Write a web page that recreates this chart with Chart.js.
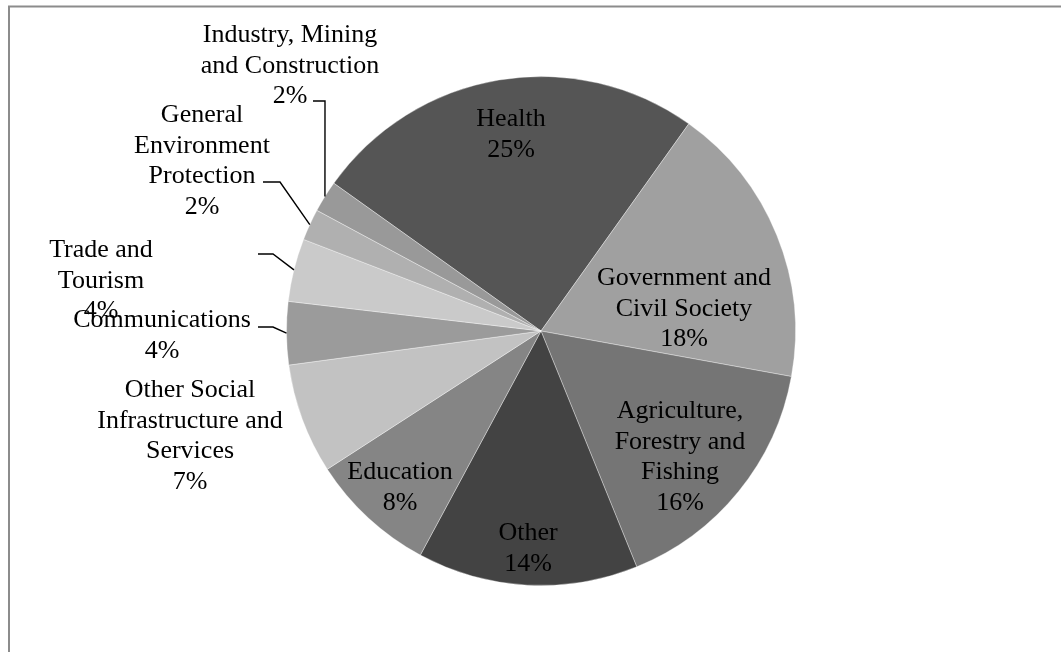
<!DOCTYPE html>
<html>
<head>
<meta charset="utf-8">
<script src="https://cdn.jsdelivr.net/npm/chart.js@4.4.1/dist/chart.umd.min.js"></script>
<style>
  html, body { margin: 0; padding: 0; background: #fff; }
  #wrap { position: relative; width: 1061px; height: 652px; }
</style>
</head>
<body>
<div id="wrap"><canvas id="sectorPie" width="1061" height="652"></canvas></div>
<script>
// sectors, clockwise from Health
const sectors = ["Health", "Government and Civil Society", "Agriculture, Forestry and Fishing", "Other",
    "Education", "Other Social Infrastructure and Services", "Communications", "Trade and Tourism",
    "General Environment Protection", "Industry, Mining and Construction"]
const shares = [25, 18, 16, 14, 8, 7, 4, 4, 2, 2]
const labelLines = [
    ["Health"],
    ["Government and", "Civil Society"],
    ["Agriculture,", "Forestry and", "Fishing"],
    ["Other"],
    ["Education"],
    ["Other Social", "Infrastructure and", "Services"],
    ["Communications"],
    ["Trade and", "Tourism"],
    ["General", "Environment", "Protection"],
    ["Industry, Mining", "and Construction"]
]
const sliceColors = ["#555555", "#a0a0a0", "#757575", "#434343", "#858585",
    "#c2c2c2", "#9b9b9b", "#cacaca", "#b0b0b0", "#999999"]

// label placement: text centre x and first baseline, relative to pie centre
const labelPos = [[-30, -205], [143, -46], [139, 87], [-13, 209], [-141, 148],
    [-351, 66], [-379, -4], [-440, -74], [-339, -209], [-251, -289]]
// leader lines: index -> [start dx, start dy, horizontal run]
const leaders = {6: [-283, -4, 15], 7: [-283, -77, 15], 8: [-278, -149, 17], 9: [-228, -230, 12]}

const FONT = "26px 'Liberation Serif', 'Times New Roman', serif"
const LINE_H = 30.5

const framePlugin = {
    id: "frame",
    beforeDraw(chart) {
        const ctx = chart.ctx
        ctx.save()
        ctx.strokeStyle = "#8c8c8c"
        ctx.lineWidth = 2
        ctx.strokeRect(9, 6.5, 1100, 700)
        ctx.restore()
    }
}

const labelPlugin = {
    id: "sliceLabels",
    afterDatasetsDraw(chart) {
        const ctx = chart.ctx
        const arcs = chart.getDatasetMeta(0).data
        ctx.save()
        ctx.font = FONT
        ctx.fillStyle = "#000"
        ctx.textAlign = "center"
        ctx.textBaseline = "alphabetic"
        arcs.forEach(function(arc, i) {
            const p = arc.getProps(["x", "y", "startAngle", "endAngle", "outerRadius"], true)
            const tx = p.x + labelPos[i][0]
            let ty = p.y + labelPos[i][1]
            const lines = labelLines[i].concat([shares[i] + "%"])
            lines.forEach(function(line, k) {
                ctx.fillText(line, tx, ty + k * LINE_H)
            })
            const ld = leaders[i]
            if (ld) {
                const mid = (p.startAngle + p.endAngle) / 2
                const ex = p.x + Math.cos(mid) * p.outerRadius
                const ey = p.y + Math.sin(mid) * p.outerRadius
                const sx = p.x + ld[0], sy = p.y + ld[1]
                ctx.beginPath()
                ctx.strokeStyle = "#000"
                ctx.lineWidth = 1.4
                ctx.moveTo(sx, sy)
                ctx.lineTo(sx + ld[2], sy)
                ctx.lineTo(ex, ey)
                ctx.stroke()
            }
        })
        ctx.restore()
    }
}

let chart = new Chart(document.getElementById("sectorPie").getContext("2d"), {
    type: "pie",
    data: {
        labels: sectors,
        datasets: [{
            data: shares,
            backgroundColor: sliceColors,
            borderColor: "rgba(255,255,255,0.35)",
            borderWidth: 1
        }]
    },
    options: {
        responsive: false,
        animation: false,
        rotation: -54.5,
        layout: { padding: { left: 286, right: 265, top: 76, bottom: 66 } },
        plugins: {
            legend: { display: false },
            tooltip: { enabled: false }
        }
    },
    plugins: [framePlugin, labelPlugin]
})
</script>
</body>
</html>
